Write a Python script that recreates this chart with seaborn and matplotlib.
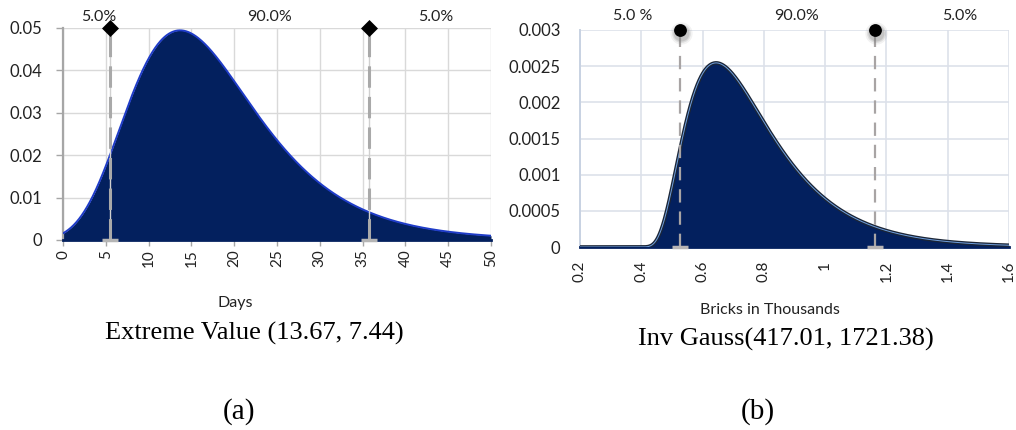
import math
import numpy as np
import pandas as pd
import matplotlib
matplotlib.use("Agg")
import matplotlib.pyplot as plt
import matplotlib.patheffects as pe
import seaborn as sns

# Extreme value (Gumbel, maximum) parameters in days: location, scale
ev_location = 13.67
ev_scale = 7.44
# Inverse Gaussian parameters in bricks: mean, shape, plus a shift
ig_mean = 417.01
ig_shape = 1721.38
ig_shift = 352.0

tail_prob = 0.05
region_labels_a = ["5.0%", "90.0%", "5.0%"]
region_label_x_a = [4.2, 24.1, 43.6]
region_labels_b = ["5.0 %", "90.0%", "5.0%"]
region_label_x_b = [0.373, 0.905, 1.44]

a_xticks = [0, 5, 10, 15, 20, 25, 30, 35, 40, 45, 50]
a_yticks = [0, 0.01, 0.02, 0.03, 0.04, 0.05]
a_ylabels = ["0", "0.01", "0.02", "0.03", "0.04", "0.05"]
b_xticks = [0.2, 0.4, 0.6, 0.8, 1.0, 1.2, 1.4, 1.6]
b_xlabels = ["0.2", "0.4", "0.6", "0.8", "1", "1.2", "1.4", "1.6"]
b_yticks = [0, 0.0005, 0.001, 0.0015, 0.002, 0.0025, 0.003]
b_ylabels = ["0", "0.0005", "0.001", "0.0015", "0.002", "0.0025", "0.003"]

title_a = "Extreme Value (13.67, 7.44)"
title_b = "Inv Gauss(417.01, 1721.38)"
xlabel_a = "Days"
xlabel_b = "Bricks in Thousands"


def gumbel_pdf(x, loc, scale):
    z = (x - loc) / scale
    return np.exp(-z - np.exp(-z)) / scale


def gumbel_ppf(p, loc, scale):
    return loc - scale * math.log(-math.log(p))


def phi(z):
    return 0.5 * (1.0 + np.vectorize(math.erf)(z / math.sqrt(2.0)))


def invgauss_pdf(x, mu, lam):
    out = np.zeros_like(x)
    m = x > 0
    t = x[m]
    out[m] = np.sqrt(lam / (2 * np.pi * t ** 3)) * np.exp(-lam * (t - mu) ** 2 / (2 * mu ** 2 * t))
    return out


def invgauss_cdf(x, mu, lam):
    x = np.asarray(x, dtype=float)
    r = np.sqrt(lam / x)
    return phi(r * (x / mu - 1)) + np.exp(2 * lam / mu) * phi(-r * (x / mu + 1))


# curve data
days = np.linspace(0, 50, 801)
df_a = pd.DataFrame({"days": days, "density": gumbel_pdf(days, ev_location, ev_scale)})
q_a = [gumbel_ppf(tail_prob, ev_location, ev_scale), gumbel_ppf(1 - tail_prob, ev_location, ev_scale)]

bricks = np.linspace(200, 1600, 1401)
df_b = pd.DataFrame({"thousands": bricks / 1000.0,
                     "density": invgauss_pdf(bricks - ig_shift, ig_mean, ig_shape)})
grid = np.linspace(1.0, 3000.0, 30000)
cdf = invgauss_cdf(grid, ig_mean, ig_shape)
q_b = [(np.interp(tail_prob, cdf, grid) + ig_shift) / 1000.0,
       (np.interp(1 - tail_prob, cdf, grid) + ig_shift) / 1000.0]

sns.set_theme(style="whitegrid")
plt.rcParams["font.family"] = ["Lato", "DejaVu Sans"]

fig = plt.figure(figsize=(10.16, 4.30), dpi=100)
W, H = 1016, 430
ax_a = fig.add_axes([63 / W, 1 - 240 / H, (491 - 63) / W, (240 - 28) / H])
ax_b = fig.add_axes([580 / W, 1 - 247 / H, (1009 - 580) / W, (247 - 30) / H])

navy = "#03205e"
text_col = "#222222"

# ---- panel (a): extreme value ----
ax_a.fill_between(df_a["days"], df_a["density"], 0, color=navy, lw=0, zorder=2)
sns.lineplot(data=df_a, x="days", y="density", ax=ax_a, color="#1f3cc8", lw=1.4, zorder=3)
for q in q_a:
    ax_a.plot([q, q], [0, 0.05], color="#d0d0d0", lw=1.0, zorder=4, clip_on=False)
    ax_a.plot([q, q], [0, 0.05], color="#a9a9a9", lw=2.2, dashes=(7, 3), zorder=4, clip_on=False)
    ax_a.plot([q], [0], marker="_", ms=11, mew=2.5, color="#b5b5b5", zorder=5, clip_on=False)
sns.scatterplot(x=q_a, y=[0.05, 0.05], ax=ax_a, marker="D", s=75, color="black",
                zorder=6, clip_on=False, linewidth=0)
for lab, xx in zip(region_labels_a, region_label_x_a):
    ax_a.text(xx, 1.052, lab, transform=ax_a.get_xaxis_transform(), ha="center", va="center",
              fontsize=11.5, color=text_col)

ax_a.set_xlim(0, 50)
ax_a.set_ylim(0, 0.05)
ax_a.set_xticks(a_xticks)
ax_a.set_xticklabels([str(v) for v in a_xticks], rotation=90, fontsize=11, color=text_col)
ax_a.set_yticks(a_yticks)
ax_a.set_yticklabels(a_ylabels, fontsize=12, color=text_col)
ax_a.set_xlabel("")
ax_a.set_ylabel("")
ax_a.grid(True, color="#d9d9d9", lw=1.0)
ax_a.tick_params(axis="x", length=4, width=1, color="#a6a6a6", direction="out", bottom=True, pad=3)
ax_a.tick_params(axis="y", length=5, width=1, color="#a6a6a6", direction="out", left=True, pad=10)
for side in ["top", "right"]:
    ax_a.spines[side].set_visible(False)
ax_a.spines["left"].set_color("#a6a6a6")
ax_a.spines["left"].set_linewidth(1.6)
ax_a.spines["bottom"].set_color(navy)
ax_a.spines["bottom"].set_linewidth(2.0)

# ---- panel (b): inverse gaussian ----
ax_b.fill_between(df_b["thousands"], df_b["density"], 0, color=navy, lw=0, zorder=2)
sns.lineplot(data=df_b, x="thousands", y="density", ax=ax_b, color="#6f9fe0", lw=0.7, zorder=3,
             path_effects=[pe.Stroke(linewidth=2.6, foreground="#1b2536"), pe.Normal()])
for q in q_b:
    ax_b.plot([q, q], [0, 0.003], color="#a8a4a4", lw=1.6, dashes=(6, 4), zorder=4, clip_on=False)
    ax_b.plot([q], [0], marker="_", ms=11, mew=2.5, color="#b8b4b4", zorder=5, clip_on=False)
    # soft shadow under each quantile handle
    for ms, a in [(16, 0.10), (13.5, 0.18), (11.5, 0.25)]:
        ax_b.plot([q + 0.002], [0.00296], marker="o", ms=ms, color="#808080", alpha=a, mew=0,
                  zorder=5, clip_on=False)
sns.scatterplot(x=q_b, y=[0.003, 0.003], ax=ax_b, marker="o", s=85, color="black",
                zorder=6, clip_on=False, linewidth=0)
for lab, xx in zip(region_labels_b, region_label_x_b):
    ax_b.text(xx, 1.065, lab, transform=ax_b.get_xaxis_transform(), ha="center", va="center",
              fontsize=11.5, color=text_col)

ax_b.set_xlim(0.2, 1.6)
ax_b.set_ylim(0, 0.003)
ax_b.set_xticks(b_xticks)
ax_b.set_xticklabels(b_xlabels, rotation=90, fontsize=11, color=text_col)
ax_b.set_yticks(b_yticks)
ax_b.set_yticklabels(b_ylabels, fontsize=12, color=text_col)
ax_b.set_xlabel("")
ax_b.set_ylabel("")
ax_b.grid(True, color="#dde1ea", lw=1.2)
ax_b.tick_params(axis="x", length=0, pad=10)
ax_b.tick_params(axis="y", length=0, pad=14)
for side in ["top", "right"]:
    ax_b.spines[side].set_visible(False)
ax_b.spines["left"].set_color("#c8d2e2")
ax_b.spines["left"].set_linewidth(1.4)
ax_b.spines["bottom"].set_color(navy)
ax_b.spines["bottom"].set_linewidth(2.0)

# ---- axis titles and captions ----
fig.text(235 / W, 1 - 303 / H, xlabel_a, ha="center", va="center", fontsize=11.5, color=text_col)
fig.text(770 / W, 1 - 310 / H, xlabel_b, ha="center", va="center", fontsize=11.5, color=text_col)
fig.text(254 / W, 1 - 333 / H, title_a, ha="center", va="center", fontsize=19,
         family=["Liberation Serif"], color="black")
fig.text(786 / W, 1 - 339 / H, title_b, ha="center", va="center", fontsize=19,
         family=["Liberation Serif"], color="black")
fig.text(239 / W, 1 - 412 / H, "(a)", ha="center", va="center", fontsize=21,
         family=["Liberation Serif"], color="black")
fig.text(758 / W, 1 - 412 / H, "(b)", ha="center", va="center", fontsize=21,
         family=["Liberation Serif"], color="black")

fig.savefig("out.png", dpi=100, facecolor="white")
